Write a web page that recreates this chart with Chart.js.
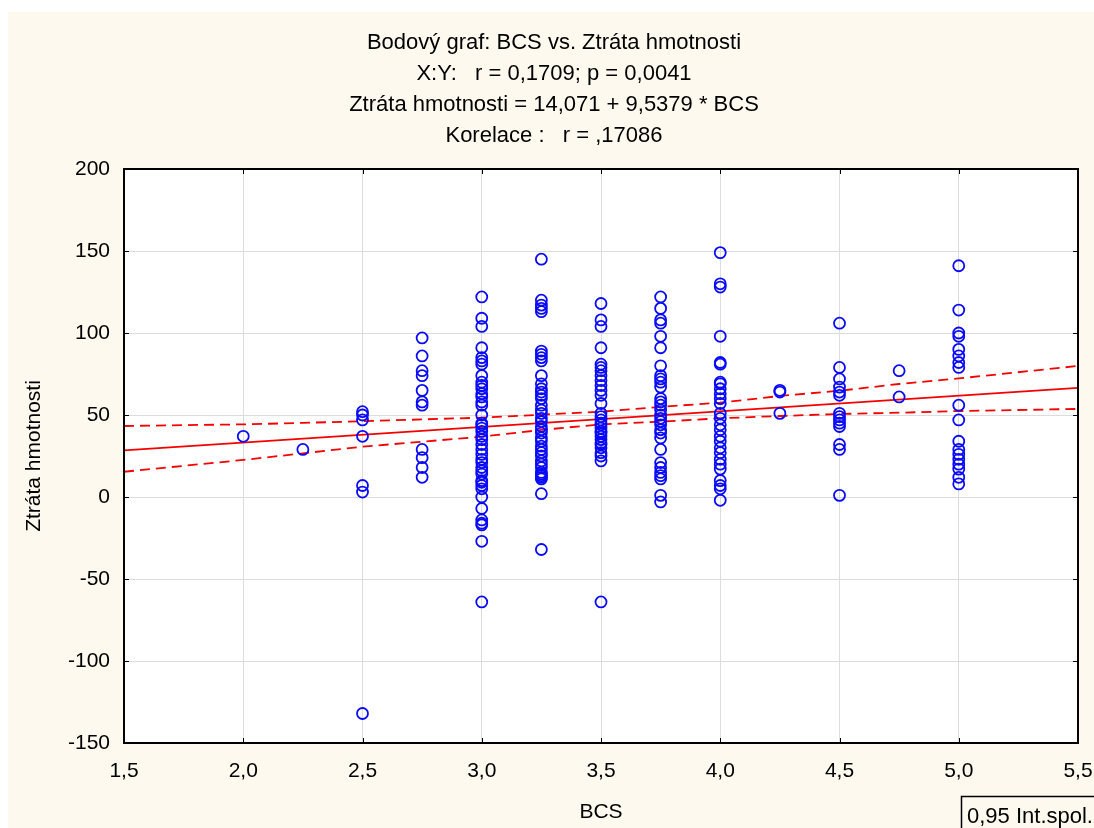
<!DOCTYPE html>
<html>
<head>
<meta charset="utf-8">
<script src="https://cdn.jsdelivr.net/npm/chart.js@4.4.1/dist/chart.umd.min.js"></script>
<style>
    html, body { margin: 0; padding: 0; background: #ffffff; }
    #wrap { position: absolute; left: 8px; top: 12px; width: 1086px; height: 816px; }
</style>
</head>
<body>
<div id="wrap"><canvas id="myChart"></canvas></div>
<script>
// header text
var titleLines = [
    'Bodový graf: BCS vs. Ztráta hmotnosti',
    'X:Y:   r = 0,1709; p = 0,0041',
    'Ztráta hmotnosti = 14,071 + 9,5379 * BCS',
    'Korelace :   r = ,17086'
];
var legendText = '0,95 Int.spol.';
var xTitle = 'BCS';
var yTitle = 'Ztráta hmotnosti';

// observed values (Ztráta hmotnosti) per BCS level
var bcsLevels = [2.0, 2.25, 2.5, 2.75, 3.0, 3.25, 3.5, 3.75, 4.0, 4.25, 4.5, 4.75, 5.0];
var loss_2_0 = [37];
var loss_2_25 = [29];
var loss_2_5 = [52, 50, 47, 37, 7, 3, -132];
var loss_2_75 = [97, 86, 77, 74, 65, 58, 56, 29, 24, 18, 12];
var loss_3_0 = [122, 109, 104, 91, 85, 83, 81, 74, 70, 68, 66, 63, 61, 58, 56, 50, 45, 44, 42,
                40, 37, 35, 32, 29, 26, 23, 21, 18, 16, 14, 10, 9, 7, 5, 0, -7, -14, -16, -17, -27, -64];
var loss_3_25 = [145, 120, 117, 115, 113, 89, 87, 85, 83, 74, 69, 66, 64, 62, 60, 56, 53, 51, 48, 46,
                 43, 41, 39, 36, 34, 31, 29, 27, 25, 22, 20, 18, 15, 14, 13, 12, 11, 2, -32];
var loss_3_5 = [118, 108, 104, 91, 81, 79, 77, 74, 71, 68, 65, 62, 57, 51, 49, 47, 45, 44, 42, 40,
                39, 37, 35, 33, 32, 30, 27, 25, 22, -64];
var loss_3_75 = [122, 115, 108, 106, 98, 91, 80, 74, 72, 70, 67, 60, 58, 56, 53, 50, 48, 46, 44, 41,
                 39, 36, 29, 21, 18, 15, 13, 11, 1, -3];
var loss_4_0 = [149, 130, 128, 98, 82, 81, 70, 69, 66, 63, 60, 57, 51, 48, 44, 41, 37, 34, 30, 27,
                23, 20, 17, 10, 7, 5, -2];
var loss_4_25 = [65, 64, 51];
var loss_4_5 = [106, 79, 72, 67, 64, 62, 51, 49, 47, 45, 43, 32, 29, 1];
var loss_4_75 = [77, 61];
var loss_5_0 = [141, 114, 100, 98, 90, 86, 82, 79, 56, 47, 34, 29, 26, 23, 20, 17, 12, 8];
var lossByLevel = [loss_2_0, loss_2_25, loss_2_5, loss_2_75, loss_3_0, loss_3_25, loss_3_5,
                   loss_3_75, loss_4_0, loss_4_25, loss_4_5, loss_4_75, loss_5_0];

// regression line and 0,95 band
var fitX = [1.5, 5.5];
var fitY = [28.4, 66.5];
var bandX = [1.5, 2.0, 2.25, 2.5, 2.75, 3.0, 3.25, 3.5, 3.75, 4.0, 4.25, 4.5, 4.75, 5.0, 5.5];
var bandUpper = [43.3, 44.3, 45.2, 46.2, 47.3, 48.4, 50.2, 52.0, 55.0, 57.5, 61.6, 64.8, 68.9, 72.3, 79.9];
var bandLower = [15.4, 22.6, 26.6, 30.7, 33.7, 36.8, 40.9, 44.3, 45.9, 48.0, 49.4, 50.6, 51.4, 52.4, 53.7];

// axis ticks
var xMin = 1.5, xMax = 5.5, xStep = 0.5;
var yMin = -150, yMax = 200, yStep = 50;

var fontFamily = "'Liberation Sans', Arial, sans-serif";

function toPoints(xs, ys) {
    return xs.map(function (x, i) { return { x: x, y: ys[i] }; });
}

var scatterPoints = [];
bcsLevels.forEach(function (b, i) {
    lossByLevel[i].forEach(function (v) {
        scatterPoints.push({ x: b, y: v });
    });
});

var framePlugin = {
    id: 'frame',
    beforeDraw: function (chart) {
        var c = chart.ctx, a = chart.chartArea;
        c.save();
        c.fillStyle = '#fdf9ef';
        c.fillRect(0, 0, chart.width, chart.height);
        c.fillStyle = '#ffffff';
        c.fillRect(a.left, a.top, a.right - a.left, a.bottom - a.top);
        c.restore();
    },
    afterDraw: function (chart) {
        var c = chart.ctx, a = chart.chartArea;
        var sx = chart.scales.x, sy = chart.scales.y;
        c.save();
        // ticks pointing inward on all four sides
        c.strokeStyle = '#000000';
        c.lineWidth = 1;
        c.beginPath();
        sx.ticks.forEach(function (t) {
            var px = Math.round(sx.getPixelForValue(t.value)) + 0.5;
            c.moveTo(px, a.bottom); c.lineTo(px, a.bottom - 5);
            c.moveTo(px, a.top); c.lineTo(px, a.top + 5);
        });
        sy.ticks.forEach(function (t) {
            var py = Math.round(sy.getPixelForValue(t.value)) + 0.5;
            c.moveTo(a.left, py); c.lineTo(a.left + 5, py);
            c.moveTo(a.right, py); c.lineTo(a.right - 5, py);
        });
        c.stroke();
        // frame
        c.lineWidth = 2;
        c.strokeRect(a.left, a.top, a.right - a.left, a.bottom - a.top);

        // header
        c.fillStyle = '#000000';
        c.font = '22px ' + fontFamily;
        c.textAlign = 'center';
        c.textBaseline = 'middle';
        titleLines.forEach(function (line, i) {
            c.fillText(line, 546, 31 + i * 31);
        });

        // legend box bottom right
        c.lineWidth = 1.5;
        c.strokeRect(953.5, 784.5, 140, 40);
        c.font = '22px ' + fontFamily;
        c.textAlign = 'left';
        c.textBaseline = 'alphabetic';
        c.fillText(legendText, 959, 811);
        c.restore();
    }
};

document.addEventListener("DOMContentLoaded", function () {
    var ctx = document.getElementById("myChart").getContext("2d");

    var myChart = new Chart(ctx, {
        type: 'scatter',
        data: {
            datasets: [{
                label: 'data',
                data: scatterPoints,
                pointStyle: 'circle',
                pointRadius: 5.5,
                pointBorderWidth: 1.8,
                borderColor: 'rgb(10,10,250)',
                backgroundColor: 'rgba(0,0,0,0)',
                showLine: false
            }, {
                label: 'fit',
                data: toPoints(fitX, fitY),
                showLine: true,
                borderColor: 'rgb(245,0,0)',
                borderWidth: 1.8,
                pointRadius: 0,
                fill: false
            }, {
                label: 'upper',
                data: toPoints(bandX, bandUpper),
                showLine: true,
                borderColor: 'rgb(245,0,0)',
                borderWidth: 1.8,
                borderDash: [10, 6],
                pointRadius: 0,
                fill: false
            }, {
                label: 'lower',
                data: toPoints(bandX, bandLower),
                showLine: true,
                borderColor: 'rgb(245,0,0)',
                borderWidth: 1.8,
                borderDash: [10, 6],
                pointRadius: 0,
                fill: false
            }]
        },
        options: {
            responsive: true,
            maintainAspectRatio: false,
            animation: false,
            layout: { padding: { top: 157, right: 16, left: 0, bottom: 0 } },
            plugins: {
                legend: { display: false },
                tooltip: { enabled: false },
                title: { display: false }
            },
            scales: {
                x: {
                    type: 'linear',
                    min: xMin,
                    max: xMax,
                    afterFit: function (scale) {
                        scale.height = 85;
                        scale.paddingLeft = 0;
                        scale.paddingRight = 0;
                    },
                    ticks: {
                        stepSize: xStep,
                        color: '#000000',
                        font: { size: 21, family: fontFamily },
                        padding: 16,
                        maxRotation: 0,
                        callback: function (v) { return v.toFixed(1).replace('.', ','); }
                    },
                    grid: { color: '#dcdcdc', lineWidth: 1, drawTicks: false },
                    border: { display: false },
                    title: {
                        display: true,
                        text: xTitle,
                        color: '#000000',
                        font: { size: 21, family: fontFamily },
                        padding: { top: 0, bottom: 3 }
                    }
                },
                y: {
                    type: 'linear',
                    min: yMin,
                    max: yMax,
                    afterFit: function (scale) {
                        scale.width = 116;
                        scale.paddingTop = 0;
                        scale.paddingBottom = 0;
                    },
                    ticks: {
                        stepSize: yStep,
                        color: '#000000',
                        font: { size: 21, family: fontFamily },
                        padding: 14
                    },
                    grid: { color: '#dcdcdc', lineWidth: 1, drawTicks: false },
                    border: { display: false },
                    title: {
                        display: true,
                        text: yTitle,
                        color: '#000000',
                        font: { size: 21, family: fontFamily },
                        padding: { top: 14, bottom: 0 }
                    }
                }
            }
        },
        plugins: [framePlugin]
    });
});
</script>
</body>
</html>
